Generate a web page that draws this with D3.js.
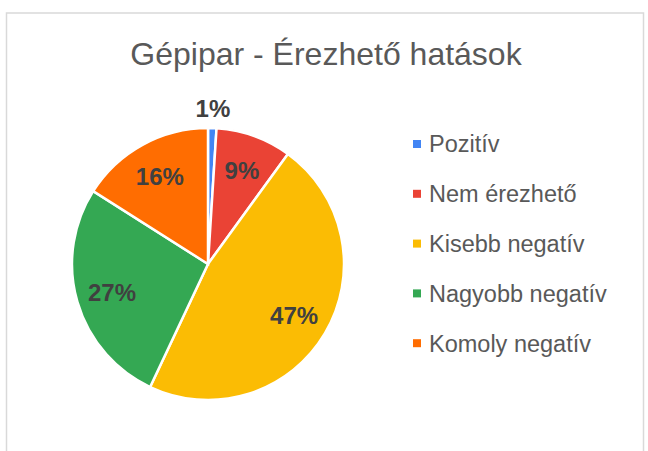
<!DOCTYPE html>
<head>
  <meta charset="utf-8">
  <title>Gépipar - Érezhető hatások</title>
  <style>
    body { margin: 0; background: #fff; }
    svg { display: block; font-family: "Liberation Sans", Arial, sans-serif; }
  </style>
</head>
<body>
  <div id="chart"></div>
  <script src="https://cdn.jsdelivr.net/npm/d3@7/dist/d3.min.js"></script>
  <script type="text/javascript">

    var title = "Gépipar - Érezhető hatások";
    var categories = ["Pozitív", "Nem érezhető", "Kisebb negatív", "Nagyobb negatív", "Komoly negatív"];
    var values = [1, 9, 47, 27, 16];
    var colors = ["#4285f4", "#ea4335", "#fbbc04", "#34a853", "#ff6d01"];

    var width = 648, height = 451;
    var cx = 208, cy = 264, radius = 136;

    var svg = d3.select("#chart").append("svg")
        .attr("width", width)
        .attr("height", height);

    // frame
    svg.append("rect")
        .attr("x", 6.5)
        .attr("y", 13)
        .attr("width", 637)
        .attr("height", 480)
        .attr("fill", "none")
        .attr("stroke", "#d9d9d9")
        .attr("stroke-width", 1.5);

    svg.append("text")
        .attr("x", 326)
        .attr("y", 65)
        .attr("text-anchor", "middle")
        .style("font-size", "32px")
        .style("fill", "#595959")
        .text(title);

    var data = categories.map((c, i) => ({ name: c, value: values[i], color: colors[i] }));

    var pie = d3.pie().sort(null).value(d => d.value);
    var arcs = pie(data);

    var arc = d3.arc().innerRadius(0).outerRadius(radius);
    var labelArc = d3.arc().innerRadius(200).outerRadius(0);
    var outerArc = d3.arc().innerRadius(radius + 20).outerRadius(radius + 20);

    var g = svg.append("g").attr("transform", "translate(" + cx + "," + cy + ")");

    g.selectAll("path")
        .data(arcs)
        .enter().append("path")
        .attr("d", arc)
        .attr("fill", d => d.data.color)
        .attr("stroke", "#fff")
        .attr("stroke-width", 2.5);

    g.selectAll("text.lbl")
        .data(arcs)
        .enter().append("text")
        .attr("class", "lbl")
        .attr("transform", d => {
            var p = d.data.value < 3 ? outerArc.centroid(d) : labelArc.centroid(d);
            return "translate(" + p[0] + "," + p[1] + ")";
        })
        .attr("text-anchor", "middle")
        .attr("dy", "0.36em")
        .style("font-size", "24px")
        .style("font-weight", "bold")
        .style("fill", "#404040")
        .text(d => d.data.value + "%");

    // legend
    var legend = svg.append("g").attr("transform", "translate(413,144)");
    var row = legend.selectAll("g")
        .data(data)
        .enter().append("g")
        .attr("transform", (d, i) => "translate(0," + (i * 49.8) + ")");

    row.append("rect")
        .attr("x", 0)
        .attr("y", -4)
        .attr("width", 8)
        .attr("height", 8)
        .attr("fill", d => d.color);

    row.append("text")
        .attr("x", 16)
        .attr("y", 8.4)
        .style("font-size", "23.5px")
        .style("fill", "#595959")
        .text(d => d.name);

  </script>
</body>
